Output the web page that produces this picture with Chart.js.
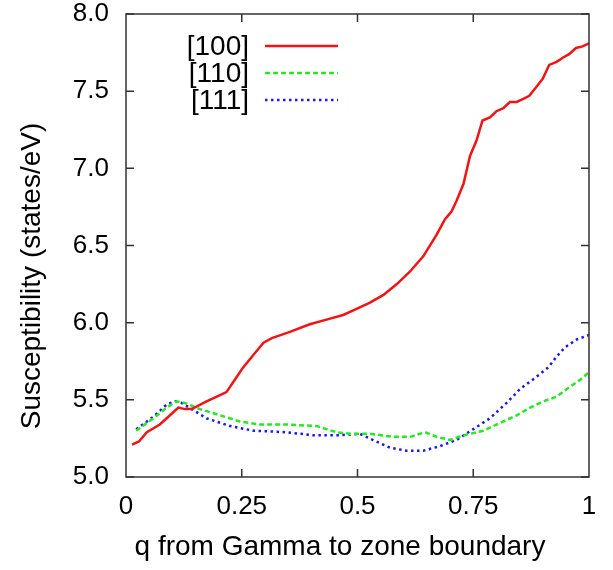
<!DOCTYPE html>
<html>
<head>
<meta charset="utf-8">
<script src="https://cdn.jsdelivr.net/npm/chart.js@4"></script>
<style>
  body { margin: 0; background: #fff; }
  #wrap { width: 613px; height: 570px; position: relative; }
</style>
</head>
<body>
<div id="wrap"><canvas id="chart"></canvas></div>
<script>
// データ
const q100 = [0.013, 0.028, 0.045, 0.073, 0.095, 0.113, 0.127, 0.142, 0.174, 0.203, 0.217, 0.235, 0.253, 0.275, 0.297, 0.315, 0.354, 0.397, 0.433, 0.469, 0.498, 0.527, 0.556, 0.585, 0.613, 0.642, 0.671, 0.689, 0.703, 0.714, 0.729, 0.743, 0.757, 0.770, 0.786, 0.800, 0.815, 0.829, 0.844, 0.858, 0.871, 0.887, 0.900, 0.914, 0.930, 0.945, 0.957, 0.972, 0.986, 1.0];
const chi100 = [5.21, 5.23, 5.29, 5.34, 5.40, 5.45, 5.44, 5.44, 5.49, 5.53, 5.55, 5.63, 5.71, 5.79, 5.87, 5.90, 5.94, 5.99, 6.02, 6.05, 6.09, 6.13, 6.18, 6.25, 6.33, 6.43, 6.57, 6.67, 6.72, 6.79, 6.90, 7.08, 7.18, 7.31, 7.33, 7.37, 7.39, 7.43, 7.43, 7.45, 7.47, 7.53, 7.58, 7.67, 7.69, 7.72, 7.74, 7.78, 7.79, 7.81];

const q110 = [0.022, 0.059, 0.088, 0.109, 0.127, 0.160, 0.203, 0.246, 0.289, 0.347, 0.412, 0.433, 0.455, 0.484, 0.527, 0.577, 0.613, 0.646, 0.671, 0.700, 0.729, 0.772, 0.815, 0.844, 0.873, 0.901, 0.930, 0.952, 0.981, 1.0];
const chi110 = [5.30, 5.38, 5.45, 5.49, 5.48, 5.44, 5.40, 5.36, 5.34, 5.34, 5.33, 5.31, 5.29, 5.28, 5.28, 5.26, 5.26, 5.29, 5.26, 5.24, 5.27, 5.30, 5.36, 5.40, 5.45, 5.49, 5.52, 5.57, 5.63, 5.68];

const q111 = [0.022, 0.059, 0.088, 0.106, 0.120, 0.142, 0.174, 0.225, 0.275, 0.347, 0.405, 0.455, 0.505, 0.541, 0.570, 0.606, 0.642, 0.678, 0.714, 0.750, 0.786, 0.822, 0.851, 0.887, 0.912, 0.930, 0.948, 0.973, 1.0];
const chi111 = [5.31, 5.39, 5.47, 5.49, 5.48, 5.44, 5.38, 5.33, 5.30, 5.29, 5.27, 5.27, 5.28, 5.23, 5.19, 5.17, 5.17, 5.20, 5.24, 5.31, 5.38, 5.48, 5.57, 5.65, 5.71, 5.78, 5.84, 5.89, 5.92];

const seriesNames = ['[100]', '[110]', '[111]'];
const xTicks = [0, 0.25, 0.5, 0.75, 1];
const yTicks = [5.0, 5.5, 6.0, 6.5, 7.0, 7.5, 8.0];
const xTitle = 'q from Gamma to zone boundary';
const yTitle = 'Susceptibility (states/eV)';

const FONT = '"Liberation Sans", Arial, sans-serif';
const RED = 'rgb(240,20,20)';
const GREEN = 'rgb(40,230,40)';
const BLUE = 'rgb(25,25,225)';

function toPoints(xs, ys) {
    return xs.map((x, i) => ({ x: x, y: ys[i] }));
}

// 枠・目盛り・凡例・軸タイトル
const framePlugin = {
    id: 'frame',
    afterDraw(chart) {
        const ctx = chart.ctx;
        const a = chart.chartArea;
        const xs = chart.scales.x, ys = chart.scales.y;
        ctx.save();
        ctx.strokeStyle = '#333';
        ctx.lineWidth = 1.5;
        ctx.strokeRect(a.left, a.top, a.right - a.left, a.bottom - a.top);
        ctx.beginPath();
        xTicks.forEach(t => {
            if (t <= 0 || t >= 1) return;
            const px = xs.getPixelForValue(t);
            ctx.moveTo(px, a.bottom); ctx.lineTo(px, a.bottom - 8);
            ctx.moveTo(px, a.top); ctx.lineTo(px, a.top + 8);
        });
        yTicks.forEach(t => {
            const py = ys.getPixelForValue(t);
            ctx.moveTo(a.left, py); ctx.lineTo(a.left + 8, py);
            ctx.moveTo(a.right, py); ctx.lineTo(a.right - 8, py);
        });
        ctx.stroke();

        // 凡例
        const styles = [
            { color: RED, dash: [] },
            { color: GREEN, dash: [5, 3] },
            { color: BLUE, dash: [2.5, 3.5] }
        ];
        ctx.font = '28px ' + FONT;
        ctx.fillStyle = '#000';
        ctx.textAlign = 'right';
        ctx.textBaseline = 'middle';
        seriesNames.forEach((name, i) => {
            const y = a.top + 32 + i * 27;
            ctx.fillText(name, a.left + 123, y + 1);
            ctx.beginPath();
            ctx.setLineDash(styles[i].dash);
            ctx.strokeStyle = styles[i].color;
            ctx.lineWidth = 2.5;
            ctx.moveTo(a.left + 139, y);
            ctx.lineTo(a.left + 212, y);
            ctx.stroke();
        });
        ctx.setLineDash([]);

        // 軸タイトル
        ctx.font = '28px ' + FONT;
        ctx.textAlign = 'center';
        ctx.textBaseline = 'alphabetic';
        ctx.fillText(xTitle, 340, 555);
        ctx.translate(40, 276);
        ctx.rotate(-Math.PI / 2);
        ctx.fillText(yTitle, 0, 0);
        ctx.restore();
    }
};

new Chart(document.getElementById('chart'), {
    type: 'line',
    data: {
        datasets: [{
            label: seriesNames[0],
            data: toPoints(q100, chi100),
            borderColor: RED,
            borderWidth: 2.5,
            pointRadius: 0
        }, {
            label: seriesNames[1],
            data: toPoints(q110, chi110),
            borderColor: GREEN,
            borderWidth: 2.5,
            borderDash: [5, 3],
            pointRadius: 0
        }, {
            label: seriesNames[2],
            data: toPoints(q111, chi111),
            borderColor: BLUE,
            borderWidth: 2.5,
            borderDash: [2.5, 3.5],
            pointRadius: 0
        }]
    },
    options: {
        responsive: true,
        maintainAspectRatio: false,
        devicePixelRatio: 1,
        animation: false,
        layout: {
            padding: { top: 14, right: 24, left: 0, bottom: 0 }
        },
        scales: {
            x: {
                type: 'linear',
                min: 0,
                max: 1,
                afterBuildTicks: s => { s.ticks = xTicks.map(v => ({ value: v })); },
                afterFit: s => { s.height = 93; s.paddingLeft = 0; s.paddingRight = 0; },
                grid: { display: false, drawTicks: false },
                border: { display: false },
                ticks: {
                    padding: 14,
                    color: '#000',
                    font: { family: FONT, size: 26 },
                    maxRotation: 0,
                    callback: v => String(v)
                }
            },
            y: {
                min: 5,
                max: 8,
                afterBuildTicks: s => { s.ticks = yTicks.map(v => ({ value: v })); },
                afterFit: s => { s.width = 126; s.paddingTop = 0; s.paddingBottom = 0; },
                grid: { display: false, drawTicks: false },
                border: { display: false },
                ticks: {
                    padding: 17,
                    color: '#000',
                    font: { family: FONT, size: 26 },
                    callback: v => v.toFixed(1)
                }
            }
        },
        plugins: {
            legend: { display: false },
            tooltip: { enabled: false }
        }
    },
    plugins: [framePlugin]
});
</script>
</body>
</html>
